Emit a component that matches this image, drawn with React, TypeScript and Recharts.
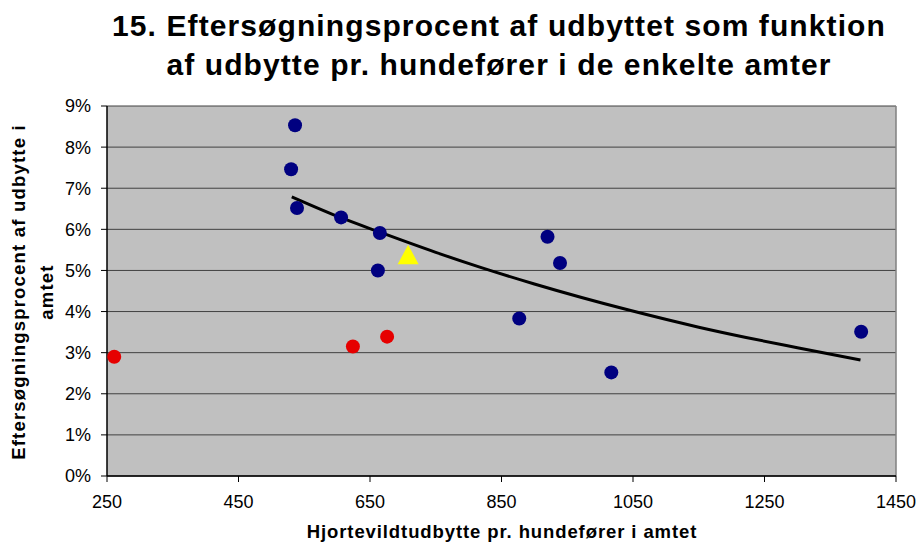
import React from "react";
import {
  CartesianGrid,
  ReferenceLine,
  Scatter,
  ScatterChart,
  XAxis,
  YAxis,
} from "recharts";

// amter (blå)
const amtUdbytte = [536, 530, 539, 606, 665, 662, 877, 920, 939, 1017, 1397];
const amtProcent = [8.53, 7.46, 6.52, 6.29, 5.91, 5.0, 3.83, 5.82, 5.18, 2.52, 3.51];

// amter (røde)
const rodUdbytte = [261, 624, 676];
const rodProcent = [2.9, 3.15, 3.39];

// hele landet (gul trekant)
const landUdbytte = [708];
const landProcent = [5.38];

// tendenslinje
const trendUdbytte = [531, 600, 665, 750, 817, 900, 1045, 1150, 1222, 1300, 1396];
const trendProcent = [6.79, 6.32, 5.93, 5.44, 5.08, 4.67, 4.03, 3.62, 3.37, 3.12, 2.82];

const xTicks = [250, 450, 650, 850, 1050, 1250, 1450];
const yTicks = [0, 1, 2, 3, 4, 5, 6, 7, 8, 9];

const toPoints = (xs: number[], ys: number[]) => xs.map((x, i) => ({ x, y: ys[i] }));

const amtData = toPoints(amtUdbytte, amtProcent);
const rodData = toPoints(rodUdbytte, rodProcent);
const landData = toPoints(landUdbytte, landProcent);
const trendData = toPoints(trendUdbytte, trendProcent);

const FONT = "'Liberation Sans', Arial, sans-serif";

const dot = (fill: string) => (props: any) =>
  <circle cx={props.cx} cy={props.cy} r={7} fill={fill} />;

const triangle = (props: any) => {
  const { cx, cy } = props;
  return (
    <polygon
      points={`${cx},${cy - 10} ${cx - 10.5},${cy + 9.5} ${cx + 10.5},${cy + 9.5}`}
      fill="#FFFF00"
    />
  );
};

const noMarker = () => <g />;

export default function App() {
  const tickStyle = { fontSize: 18, fill: "#000", fontFamily: FONT };
  return (
    <div
      style={{
        position: "absolute",
        left: 0,
        top: 0,
        width: 920,
        height: 544,
        background: "#fff",
        fontFamily: FONT,
      }}
    >
      <div
        style={{
          position: "absolute",
          top: 7,
          left: 0,
          width: 998,
          textAlign: "center",
          fontSize: 30,
          fontWeight: "bold",
          letterSpacing: "1.1px",
          lineHeight: "38.5px",
        }}
      >
        15. Eftersøgningsprocent af udbyttet som funktion
        <br />
        af udbytte pr. hundefører i de enkelte amter
      </div>
      <ScatterChart
        width={920}
        height={544}
        margin={{ top: 106, right: 24, bottom: 0, left: 0 }}
      >
        <CartesianGrid
          horizontal={true}
          vertical={false}
          fill="#C0C0C0"
          fillOpacity={1}
          stroke="#404040"
          strokeWidth={1}
        />
        <XAxis
          type="number"
          dataKey="x"
          domain={[250, 1450]}
          ticks={xTicks}
          interval={0}
          height={68}
          tickSize={6}
          tickMargin={13}
          tick={tickStyle}
          axisLine={{ stroke: "#000", strokeWidth: 1.5 }}
          tickLine={{ stroke: "#000" }}
          allowDataOverflow
        />
        <YAxis
          type="number"
          dataKey="y"
          domain={[0, 9]}
          ticks={yTicks}
          interval={0}
          width={107}
          tickSize={6}
          tickMargin={10}
          tick={tickStyle}
          tickFormatter={(v: number) => `${v}%`}
          axisLine={{ stroke: "#000", strokeWidth: 1.5 }}
          tickLine={{ stroke: "#000" }}
        />
        <ReferenceLine x={1450} stroke="#808080" strokeWidth={1.5} />
        <Scatter
          data={trendData}
          shape={noMarker}
          line={{ stroke: "#000", strokeWidth: 3 }}
          lineJointType="monotoneX"
          isAnimationActive={false}
        />
        <Scatter data={amtData} shape={dot("#000080")} isAnimationActive={false} />
        <Scatter data={rodData} shape={dot("#E60000")} isAnimationActive={false} />
        <Scatter data={landData} shape={triangle} isAnimationActive={false} />
      </ScatterChart>
      <div
        style={{
          position: "absolute",
          left: 0,
          top: 521,
          width: 1004,
          textAlign: "center",
          fontSize: 18.5,
          fontWeight: "bold",
          letterSpacing: "0.9px",
          lineHeight: "22px",
        }}
      >
        Hjortevildtudbytte pr. hundefører i amtet
      </div>
      <div
        style={{
          position: "absolute",
          left: 32.6 - 200,
          top: 292 - 28,
          width: 400,
          height: 56,
          textAlign: "center",
          fontSize: 18.5,
          fontWeight: "bold",
          letterSpacing: "1.2px",
          lineHeight: "28px",
          transform: "rotate(-90deg)",
        }}
      >
        Eftersøgningsprocent af udbytte i
        <br />
        amtet
      </div>
    </div>
  );
}
